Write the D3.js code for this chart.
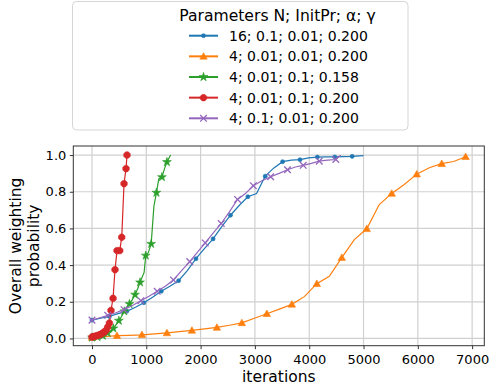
<!DOCTYPE html>
<html>
<head>
<script src="https://cdn.jsdelivr.net/npm/d3@7"></script>
<style>
  body { margin: 0; background: #fff; }
  text { font-family: "DejaVu Sans", sans-serif; fill: #000; }
</style>
</head>
<body>
<svg width="489" height="391" id="mainsvg"></svg>
<script>
// ---- data ----
const labels = ['16; 0.1; 0.01; 0.200', '4; 0.01; 0.01; 0.200', '4; 0.01; 0.1; 0.158',
                '4; 0.01; 0.1; 0.200', '4; 0.1; 0.01; 0.200'];
const colors = ['#1f77b4', '#ff7f0e', '#2ca02c', '#d62728', '#9467bd'];
const markers = ['dot', 'triangle', 'star', 'octagon', 'cross'];
const markEvery = [2, 2, 2, 1, 2];

const blueX = [0, 160, 320, 480, 640, 800, 955, 1115, 1275, 1435, 1595, 1755, 1915, 2070, 2230, 2390,
               2550, 2710, 2870, 3030, 3190, 3350, 3510, 3670, 3830, 3990, 4150, 4310, 4470, 4630, 4790, 5000];
const blueY = [0.10, 0.11, 0.12, 0.135, 0.148, 0.17, 0.195, 0.225, 0.257, 0.285, 0.315, 0.37, 0.435, 0.49, 0.543, 0.61,
               0.672, 0.725, 0.773, 0.79, 0.885, 0.93, 0.964, 0.972, 0.975, 0.985, 0.989, 0.99, 0.99, 0.992, 0.993, 0.997];

const orangeX = [0, 230, 460, 690, 920, 1150, 1380, 1610, 1840, 2070, 2300, 2530, 2760, 2990, 3220, 3450,
                 3680, 3910, 4140, 4370, 4600, 4830, 5060, 5290, 5520, 5750, 5980, 6210, 6440, 6660, 6880];
const orangeY = [0.005, 0.01, 0.015, 0.017, 0.02, 0.025, 0.03, 0.037, 0.044, 0.052, 0.06, 0.072, 0.085, 0.11, 0.135, 0.16,
                 0.186, 0.228, 0.299, 0.339, 0.441, 0.539, 0.598, 0.73, 0.791, 0.84, 0.896, 0.931, 0.953, 0.965, 0.991];

const greenX = [0, 50, 100, 150, 200, 245, 290, 340, 394, 445, 495, 545, 595, 640, 690, 740,
                793, 840, 885, 960, 990, 1040, 1090, 1140, 1187, 1230, 1288, 1340, 1380, 1448];
const greenY = [0.005, 0.006, 0.008, 0.011, 0.015, 0.022, 0.03, 0.042, 0.055, 0.075, 0.097, 0.12, 0.148, 0.17, 0.188, 0.21,
                0.239, 0.27, 0.306, 0.36, 0.452, 0.47, 0.516, 0.72, 0.795, 0.87, 0.88, 0.93, 0.962, 1.0];

const redX = [0, 25, 50, 80, 110, 140, 170, 200, 230, 260, 290, 320, 350, 388, 424, 461, 511, 548, 590, 627, 645];
const redY = [0.008, 0.01, 0.012, 0.014, 0.017, 0.02, 0.024, 0.03, 0.036, 0.045, 0.062, 0.084, 0.153, 0.219,
              0.375, 0.479, 0.479, 0.552, 0.844, 0.926, 1.0];

const purpleX = [0, 145, 290, 440, 590, 745, 900, 1050, 1200, 1350, 1500, 1650, 1800, 1940, 2085, 2230,
                 2380, 2530, 2680, 2825, 2970, 3130, 3290, 3445, 3600, 3745, 3890, 4040, 4185, 4340, 4490, 4580];
const purpleY = [0.10, 0.113, 0.126, 0.14, 0.157, 0.18, 0.206, 0.23, 0.257, 0.285, 0.319, 0.37, 0.419, 0.47, 0.521, 0.575,
                 0.627, 0.69, 0.758, 0.79, 0.833, 0.86, 0.882, 0.90, 0.92, 0.935, 0.944, 0.955, 0.967, 0.972, 0.976, 1.0];

const seriesX = [blueX, orangeX, greenX, redX, purpleX];
const seriesY = [blueY, orangeY, greenY, redY, purpleY];

const xTicks = [0, 1000, 2000, 3000, 4000, 5000, 6000, 7000];
const yTicks = [0.0, 0.2, 0.4, 0.6, 0.8, 1.0];

// ---- layout ----
const svg = d3.select('#mainsvg');
const pLeft = 73.3, pRight = 484.3, pTop = 146, pBottom = 345.7;

const x = d3.scaleLinear().domain([-344, 7224]).range([pLeft, pRight]);
const y = d3.scaleLinear().domain([-0.0395, 1.0495]).range([pBottom, pTop]);

// grid
const grid = svg.append('g');
grid.selectAll('.vg').data(xTicks).join('line')
  .attr('x1', d => x(d)).attr('x2', d => x(d)).attr('y1', pTop).attr('y2', pBottom)
  .attr('stroke', '#d0d0d0').attr('stroke-width', 1.2);
grid.selectAll('.hg').data(yTicks).join('line')
  .attr('y1', d => y(d)).attr('y2', d => y(d)).attr('x1', pLeft).attr('x2', pRight)
  .attr('stroke', '#d0d0d0').attr('stroke-width', 1.2);

// axes
const xAxis = svg.append('g').attr('transform', `translate(0,${pBottom})`)
  .call(d3.axisBottom(x).tickValues(xTicks).tickFormat(d3.format('d')).tickSize(3.5).tickPadding(5.5));
const yAxis = svg.append('g').attr('transform', `translate(${pLeft},0)`)
  .call(d3.axisLeft(y).tickValues(yTicks).tickFormat(d3.format('.1f')).tickSize(3.5).tickPadding(3.5));
[xAxis, yAxis].forEach(a => {
  a.select('.domain').remove();
  a.selectAll('line').attr('stroke', '#333');
  a.selectAll('text').attr('font-size', '13px').attr('font-family', 'DejaVu Sans').attr('fill', '#000');
});

svg.append('rect').attr('x', pLeft).attr('y', pTop)
  .attr('width', pRight - pLeft).attr('height', pBottom - pTop)
  .attr('fill', 'none').attr('stroke', '#333').attr('stroke-width', 1);

// marker shapes
function markerPath(kind) {
  if (kind === 'dot') return d3.symbol(d3.symbolCircle, 13)();
  if (kind === 'triangle') return 'M0,-3.7L3.7,2.8L-3.7,2.8Z';
  if (kind === 'star') return d3.symbol(d3.symbolStar, 24)();
  if (kind === 'octagon') {
    const r = 3.5;
    return d3.range(8).map((i, k) => {
      const a = Math.PI / 8 + i * Math.PI / 4;
      return (k ? 'L' : 'M') + (r * Math.cos(a)).toFixed(2) + ',' + (r * Math.sin(a)).toFixed(2);
    }).join('') + 'Z';
  }
  return 'M-3.3,-3.3L3.3,3.3M-3.3,3.3L3.3,-3.3';
}
function drawMarker(sel, kind, color) {
  sel.attr('d', markerPath(kind))
    .attr('fill', kind === 'cross' ? 'none' : color)
    .attr('stroke', color)
    .attr('stroke-width', kind === 'cross' ? 1.3 : 0.6);
}

// series
const line = d3.line().x(d => x(d[0])).y(d => y(d[1]));
seriesX.forEach((xs, i) => {
  const pts = xs.map((v, j) => [v, seriesY[i][j]]);
  const g = svg.append('g');
  g.append('path').datum(pts).attr('d', line)
    .attr('fill', 'none').attr('stroke', colors[i]).attr('stroke-width', 1.2);
  g.selectAll('.mk').data(pts.filter((p, j) => j % markEvery[i] === 0)).join('path')
    .attr('transform', d => `translate(${x(d[0])},${y(d[1])})`)
    .call(drawMarker, markers[i], colors[i]);
});

// axis labels
svg.append('text').attr('x', (pLeft + pRight) / 2).attr('y', 382)
  .attr('text-anchor', 'middle').attr('font-size', '15.5px').text('iterations');
const yl = svg.append('text').attr('transform', `translate(21,${(pTop + pBottom) / 2}) rotate(-90)`)
  .attr('text-anchor', 'middle').attr('font-size', '15.5px');
yl.append('tspan').attr('x', 0).attr('dy', 0).text('Overall weighting');
yl.append('tspan').attr('x', 0).attr('dy', 18).text('probability');

// legend
const lg = svg.append('g');
lg.append('rect').attr('x', 72.5).attr('y', 1.5).attr('width', 335.5).attr('height', 128.5)
  .attr('rx', 4).attr('fill', '#fff').attr('stroke', '#d5d5d5').attr('stroke-width', 1);
lg.append('text').attr('x', 277.5).attr('y', 21).attr('text-anchor', 'middle')
  .attr('font-size', '15.6px').text('Parameters N; InitPr; α; γ');
labels.forEach((lab, i) => {
  const cy = 35.7 + i * 20.65;
  lg.append('line').attr('x1', 189).attr('x2', 218).attr('y1', cy).attr('y2', cy)
    .attr('stroke', colors[i]).attr('stroke-width', 2);
  lg.append('path').attr('transform', `translate(203.5,${cy})`).call(drawMarker, markers[i], colors[i]);
  lg.append('text').attr('x', 229).attr('y', cy + 5).attr('font-size', '14px').text(lab);
});
</script>
</body>
</html>
